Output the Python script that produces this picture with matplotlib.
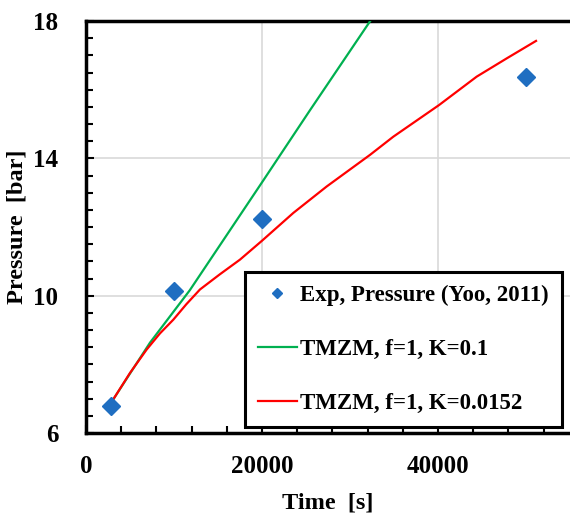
import matplotlib
matplotlib.use("Agg")
import matplotlib.pyplot as plt
from matplotlib.ticker import MultipleLocator

# experimental points (Yoo, 2011)
exp_time = [2800, 10000, 20000, 50000]
exp_pressure = [6.8, 10.15, 12.22, 16.38]

# TMZM, f=1, K=0.1
green_time = [3100, 7270, 11800, 20000, 25450, 32300]
green_pressure = [6.98, 8.63, 10.16, 13.3, 15.4, 18.0]

# TMZM, f=1, K=0.0152
red_time = [3100, 5000, 6890, 8400, 9920, 11400, 12950, 15200, 17500, 20000,
            23560, 27350, 32270, 34920, 40110, 44400, 47800, 51140]
red_pressure = [6.98, 7.75, 8.43, 8.9, 9.3, 9.75, 10.18, 10.62, 11.05, 11.6,
                12.41, 13.18, 14.1, 14.63, 15.55, 16.38, 16.91, 17.42]

x_ticks = [0, 20000, 40000]
y_ticks = [6, 10, 14, 18]

plt.rcParams['font.family'] = ['Liberation Serif', 'DejaVu Serif']
plt.rcParams['font.weight'] = 'bold'

fig = plt.figure(figsize=(5.7, 5.16), dpi=100)
ax = fig.add_axes([86 / 570, 1 - 433 / 516, 1 - 86 / 570, (433 - 21) / 516])

ax.plot(exp_time, exp_pressure, linestyle='none', marker='D', markersize=9,
        color='#1F6EC1', label='Exp, Pressure (Yoo, 2011)', zorder=4)
ax.plot(green_time, green_pressure, color='#00B050', linewidth=1.6,
        label='TMZM, f=1, K=0.1', zorder=3)
ax.plot(red_time, red_pressure, color='#FF0000', linewidth=1.6,
        label='TMZM, f=1, K=0.0152', zorder=3)

ax.set_xlim(0, 55000)
ax.set_ylim(6, 18)
ax.set_xticks(x_ticks)
ax.set_yticks(y_ticks)
ax.xaxis.set_minor_locator(MultipleLocator(4000))
ax.yaxis.set_minor_locator(MultipleLocator(0.5))
ax.grid(True, which='major', color='#d9d9d9', linewidth=1.2)
ax.set_axisbelow(True)

ax.tick_params(which='both', direction='in', labelsize=18, width=1.5)
ax.tick_params(which='major', length=6)
ax.tick_params(which='minor', length=5)
ax.tick_params(axis='x', pad=16)
ax.tick_params(axis='y', pad=20)
for lab in ax.get_xticklabels() + ax.get_yticklabels():
    lab.set_fontweight('bold')

for side in ['left', 'bottom', 'top']:
    ax.spines[side].set_linewidth(2.5)
ax.spines['right'].set_visible(False)

ax.set_xlabel('Time  [s]', fontsize=17.5, fontweight='bold', labelpad=10)
ax.set_ylabel('Pressure  [bar]', fontsize=17.5, fontweight='bold', labelpad=4)

leg = ax.legend(loc='lower left', bbox_to_anchor=((245 - 86) / 484, (433 - 427) / 412),
                fontsize=16.5, frameon=True, fancybox=False, borderpad=0.55,
                labelspacing=1.45, handlelength=1.7, handletextpad=0.17,
                markerscale=0.6, borderaxespad=0)
leg.get_frame().set_edgecolor('black')
leg.get_frame().set_linewidth(2.2)
leg.get_frame().set_alpha(1)
for t in leg.get_texts():
    t.set_fontweight('bold')

fig.savefig('out.png', dpi=100)
